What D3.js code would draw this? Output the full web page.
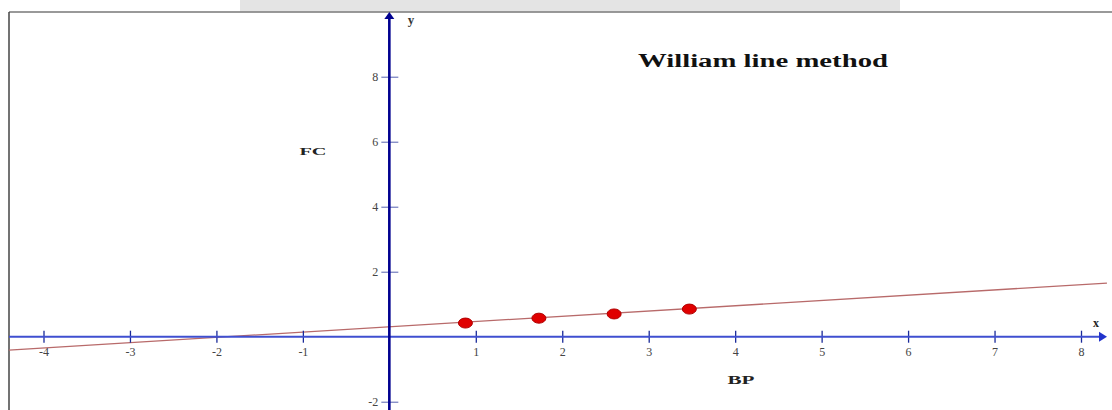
<!DOCTYPE html>
<html>
<head>
<meta charset="utf-8">
<script src="https://cdn.jsdelivr.net/npm/d3@7"></script>
<style>
  html, body { margin: 0; padding: 0; background: #fff; }
  svg { display: block; }
</style>
</head>
<body>
<svg id="chart" width="1112" height="410"></svg>
<script>
// ---- data ----
const title = "William line method";
const xLabel = "BP";
const yLabel = "FC";
const xTicks = [-4, -3, -2, -1, 1, 2, 3, 4, 5, 6, 7, 8];
const yTicks = [-2, 2, 4, 6, 8];
const bpValues = [0.88, 1.73, 2.60, 3.47];
const fcValues = [0.42, 0.57, 0.70, 0.85];
const lineX = [-4.4, 8.3];
const lineY = [-0.41, 1.65];

const svg = d3.select("#chart");
const W = 1112, H = 410;

const x = d3.scaleLinear().domain([-4, 8]).range([43.5, 1081]);
const y = d3.scaleLinear().domain([-2, 8]).range([401.7, 76.7]);

// top grey strip and frame
svg.append("rect").attr("x", 0).attr("y", 0).attr("width", W).attr("height", 11.5).attr("fill", "#fff");
svg.append("rect").attr("x", 240).attr("y", 0).attr("width", 660).attr("height", 11.5).attr("fill", "#e4e4e4");
svg.append("line").attr("x1", 9).attr("x2", W).attr("y1", 12).attr("y2", 12)
  .attr("stroke", "#777").attr("stroke-width", 1.5);
svg.append("line").attr("x1", 9).attr("x2", 9).attr("y1", 12).attr("y2", H)
  .attr("stroke", "#444").attr("stroke-width", 1.5);

const serif = "'Liberation Serif', 'DejaVu Serif', serif";

// fitted line
svg.append("line")
  .attr("x1", x(lineX[0])).attr("y1", y(lineY[0]))
  .attr("x2", x(lineX[1])).attr("y2", y(lineY[1]))
  .attr("stroke", "#b86a6a").attr("stroke-width", 1.3);

// x axis
const x0 = y(0);
const xAxis = d3.axisBottom(x).tickValues(xTicks).tickSize(6).tickPadding(5).tickFormat(d3.format("d"));
const gx = svg.append("g").attr("transform", `translate(0,${x0})`).call(xAxis);
gx.select(".domain").remove();
gx.selectAll(".tick line").attr("y1", -6).attr("y2", 6).attr("stroke", "#1a2a99").attr("stroke-width", 1.3);
gx.selectAll(".tick text").attr("font-family", serif).attr("font-size", 12).attr("fill", "#444")
  .text(d => d < 0 ? "-" + Math.abs(d) : d);
svg.append("line").attr("x1", 9).attr("x2", 1100).attr("y1", x0).attr("y2", x0)
  .attr("stroke", "#3f4fd0").attr("stroke-width", 2);
svg.append("path").attr("d", `M1099,${x0-5} L1107,${x0} L1099,${x0+5} Z`).attr("fill", "#2233cc");
svg.append("text").attr("x", 1096).attr("y", 327).attr("text-anchor", "middle")
  .attr("font-family", serif).attr("font-weight", "bold").attr("font-size", 12).attr("fill", "#222").text("x");

// y axis
const y0 = x(0);
const yAxis = d3.axisLeft(y).tickValues(yTicks).tickSize(8).tickPadding(3).tickFormat(d3.format("d"));
const gy = svg.append("g").attr("transform", `translate(${y0},0)`).call(yAxis);
gy.select(".domain").remove();
gy.selectAll(".tick line").attr("x1", -8).attr("x2", 9).attr("stroke", "#5560b0").attr("stroke-width", 1);
gy.selectAll(".tick text").attr("font-family", serif).attr("font-size", 12).attr("fill", "#444")
  .text(d => d < 0 ? "-" + Math.abs(d) : d);
svg.append("line").attr("x1", y0).attr("x2", y0).attr("y1", H).attr("y2", 17)
  .attr("stroke", "#00008f").attr("stroke-width", 2.6);
svg.append("path").attr("d", `M${y0-5},${19} L${y0},${12} L${y0+5},${19} Z`).attr("fill", "#00008f");
svg.append("text").attr("x", 411).attr("y", 24).attr("text-anchor", "middle")
  .attr("font-family", serif).attr("font-weight", "bold").attr("font-size", 13).attr("fill", "#333").text("y");

// points
svg.append("g").selectAll("ellipse").data(bpValues).join("ellipse")
  .attr("cx", d => x(d)).attr("cy", (d, i) => y(fcValues[i]))
  .attr("rx", 7).attr("ry", 5)
  .attr("fill", "#e00000").attr("stroke", "#b00000").attr("stroke-width", 1);

// labels
svg.append("text").attr("x", 763).attr("y", 67).attr("text-anchor", "middle")
  .attr("font-family", serif).attr("font-weight", "bold").attr("font-size", 18).attr("fill", "#111")
  .attr("textLength", 250).attr("lengthAdjust", "spacingAndGlyphs").text(title);
svg.append("text").attr("x", 313).attr("y", 155).attr("text-anchor", "middle")
  .attr("font-family", serif).attr("font-weight", "bold").attr("font-size", 11).attr("fill", "#222")
  .attr("textLength", 27).attr("lengthAdjust", "spacingAndGlyphs").text(yLabel);
svg.append("text").attr("x", 741).attr("y", 384).attr("text-anchor", "middle")
  .attr("font-family", serif).attr("font-weight", "bold").attr("font-size", 12).attr("fill", "#222")
  .attr("textLength", 27).attr("lengthAdjust", "spacingAndGlyphs").text(xLabel);
</script>
</body>
</html>
